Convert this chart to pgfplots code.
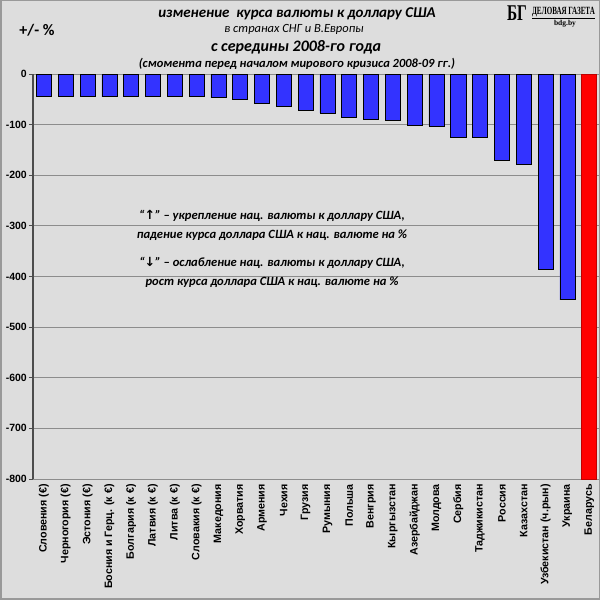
\documentclass[border=0pt]{standalone}
\usepackage{graphicx}
\usepackage{fontspec}
\setmainfont{Liberation Sans}
\newfontfamily\carl{Carlito}
\newfontfamily\serifb{Liberation Serif}
\newfontfamily\dejavu{DejaVu Sans}
\usepackage{pgfplots}
\pgfplotsset{compat=1.18}
\definecolor{bgc}{HTML}{DDDDDD}
\definecolor{barblue}{HTML}{3333FF}
\definecolor{gridc}{HTML}{8C8C8C}
\definecolor{framec}{HTML}{999999}
\begin{document}
\begin{tikzpicture}[x=1pt,y=1pt]
\useasboundingbox (0,0) rectangle (600,600);
\fill[bgc] (0,0) rectangle (600,600);
\draw[framec, line width=1.5pt] (0.75,0.75) rectangle (599.25,599.25);
\begin{axis}[
  at={(33pt,121pt)}, anchor=south west,
  scale only axis, width=566pt, height=405pt,
  xmin=-0.5, xmax=25.45, ymin=-800, ymax=0,
  axis x line*=bottom, axis y line*=left,
  x axis line style={draw=none},
  y axis line style={-, draw=black!70, line width=1.8pt},
  ytick={-800,-700,-600,-500,-400,-300,-200,-100,0},
  yticklabels={-800,-700,-600,-500,-400,-300,-200,-100,0},
  ymajorgrids, grid style={draw=gridc, line width=0.9pt},
  ytick style={draw=black!70, line width=0.9pt},
  tick align=outside, major tick length=4pt,
  yticklabel style={font=\bfseries\fontsize{10.5}{12}\selectfont, inner sep=2pt},
  xtick={0,...,25},
  xtick style={draw=none},
  xticklabels={{Словения (€)},{Черногория (€)},{Эстония (€)},{Босния и Герц. (к €)},{Болгария (к €)},{Латвия (к €)},{Литва (к €)},{Словакия (к €)},{Македония},{Хорватия},{Армения},{Чехия},{Грузия},{Румыния},{Польша},{Венгрия},{Кыргызстан},{Азербайджан},{Молдова},{Сербия},{Таджикистан},{Россия},{Казахстан},{Узбекистан (ч.рын)},{Украина},{Беларусь}},
  xticklabel style={rotate=90, anchor=east, font=\bfseries\fontsize{10.7}{12}\selectfont, inner sep=1pt},
  clip=true,
]
\addplot[ybar, bar shift=0pt, bar width=0.69, fill=barblue, draw=black, line width=0.6pt]
  coordinates {(0,-45) (1,-45) (2,-45) (3,-45) (4,-45) (5,-45) (6,-45) (7,-45)
  (8,-47) (9,-50) (10,-58) (11,-63) (12,-71) (13,-77) (14,-85) (15,-89) (16,-92)
  (17,-101) (18,-103) (19,-125) (20,-125) (21,-170) (22,-178) (23,-386) (24,-446)};
\addplot[ybar, bar shift=0pt, bar width=0.69, fill=red, draw=red!75!black, line width=0.6pt]
  coordinates {(25,-800)};
\end{axis}
% titles
\node[font=\carl\bfseries\itshape\fontsize{15}{18}\selectfont] at (297,586) {изменение\ \ курса валюты к доллару США};
\node[font=\carl\itshape\fontsize{12.5}{14}\selectfont] at (294,571) {в странах СНГ и В.Европы};
\node[font=\carl\bfseries\itshape\fontsize{16}{19}\selectfont] at (296,553) {с середины 2008-го года};
\node[font=\carl\bfseries\itshape\fontsize{12.5}{14}\selectfont] at (297,536) {(смомента перед началом мирового кризиса 2008-09 гг.)};
\node[font=\carl\bfseries\fontsize{16}{18}\selectfont] at (37,570) {+/- \%};
% logo
\node[font=\serifb\bfseries\fontsize{18}{18}\selectfont, inner sep=0pt] at (517,587) {\scalebox{0.85}[1.25]{БГ}};
\node[font=\serifb\bfseries\fontsize{11}{12}\selectfont, inner sep=0pt] at (563.5,587) {\scalebox{0.64}[1]{\underline{ДЕЛОВАЯ ГАЗЕТА}}};
\node[font=\serifb\bfseries\fontsize{7.5}{8}\selectfont, inner sep=0pt] at (565,576) {bdg.by};
% annotations
\node[font=\carl\bfseries\itshape\fontsize{12.6}{19}\selectfont, align=center] at (272,374.5)
  {“{\dejavu\bfseries ↑}” – укрепление нац. валюты к доллару США,\\ падение курса доллара США к нац. валюте на \%};
\node[font=\carl\bfseries\itshape\fontsize{12.6}{19}\selectfont, align=center] at (272,327.5)
  {“{\dejavu\bfseries ↓}” – ослабление нац. валюты к доллару США,\\ рост курса доллара США к нац. валюте на \%};
\end{tikzpicture}
\end{document}
